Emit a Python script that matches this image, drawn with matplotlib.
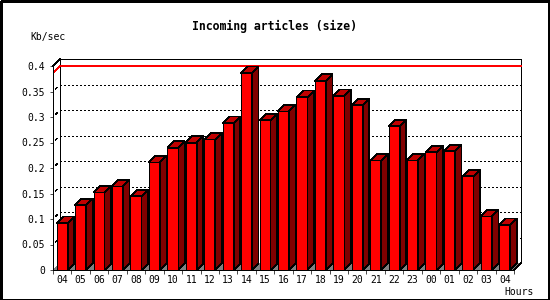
import numpy as np
import matplotlib
matplotlib.use('Agg')
import matplotlib.pyplot as plt
from matplotlib.patches import Polygon, Rectangle

# hourly incoming article volume, Kb/sec
hours = ['04', '05', '06', '07', '08', '09', '10', '11', '12', '13', '14', '15',
         '16', '17', '18', '19', '20', '21', '22', '23', '00', '01', '02', '03', '04']
kbsec = [0.092, 0.127, 0.152, 0.164, 0.1445, 0.211, 0.240, 0.250, 0.256, 0.288,
         0.386, 0.2935, 0.311, 0.339, 0.371, 0.341, 0.323, 0.215, 0.282, 0.215,
         0.231, 0.233, 0.184, 0.105, 0.088]
yticks = [0, 0.05, 0.1, 0.15, 0.2, 0.25, 0.3, 0.35, 0.4]

W, H = 550, 300
LW = 0.5
plt.rcParams['lines.antialiased'] = False
plt.rcParams['patch.antialiased'] = False
fig = plt.figure(figsize=(W / 100, H / 100), dpi=100)

# front plane of the box in pixels
x0, x1, y0, y1 = 53, 514, 270, 66
ax = fig.add_axes([x0 / W, (H - y0) / H, (x1 - x0) / W, (y0 - y1) / H])
n = len(hours)
ymax = yticks[-1]
ax.set_xlim(0, n)
ax.set_ylim(0, ymax)

pxx = (x1 - x0) / n
pxy = (y0 - y1) / ymax
DX, DY = 7 / pxx, 7 / pxy        # wall depth
BX, BY = 6.5 / pxx, 6.5 / pxy    # bar depth

for s in ['top', 'right']:
    ax.spines[s].set_visible(False)
for s in ['left', 'bottom']:
    ax.spines[s].set_linewidth(LW)
    ax.spines[s].set_zorder(6)

# floor
ax.add_patch(Polygon([(0, 0), (n, 0), (n + DX, DY), (DX, DY)], closed=True,
                     facecolor='#808080', edgecolor='none', zorder=0, clip_on=False))

# back wall outline
kw = dict(color='black', lw=LW, clip_on=False, zorder=1)
ax.plot([DX, DX, n + DX, n + DX], [DY, ymax + DY, ymax + DY, DY], **kw)
ax.plot([0, DX], [ymax, ymax + DY], **kw)
ax.plot([n, n + DX], [0, DY], **kw)

# dotted grid on back wall + little stubs
for v in yticks[1:-1]:
    ax.plot([DX, n + DX], [v + DY, v + DY], color='black', lw=LW,
            ls=(0, (2, 4)), clip_on=False, zorder=1)
    ax.plot([DX * 0.4, DX * 0.55], [v + DY * 0.4, v + DY * 0.55], **kw)

# max line
vmax = max(kbsec)
ax.plot([DX * 0.2, DX, n + DX], [vmax + DY * 0.2, vmax + DY, vmax + DY],
        color='#ff0000', lw=LW, clip_on=False, zorder=1)

# bars
xs = np.arange(n) + 0.5
bw = 0.6
ax.bar(xs, kbsec, width=bw, color='#ff0000', edgecolor='black', linewidth=LW, zorder=3)
for x, v in zip(xs, kbsec):
    l, r = x - bw / 2, x + bw / 2
    ax.add_patch(Polygon([(r, 0), (r + BX, BY), (r + BX, v + BY), (r, v)], closed=True,
                         facecolor='#800000', edgecolor='black', lw=LW, zorder=3,
                         clip_on=False))
    ax.add_patch(Polygon([(l, v), (r, v), (r + BX, v + BY), (l + BX, v + BY)], closed=True,
                         facecolor='#c00000', edgecolor='black', lw=LW, zorder=3,
                         clip_on=False))

mono = 'DejaVu Sans Mono'
ax.set_yticks(yticks)
ax.set_yticklabels(['%g' % v for v in yticks], family=mono, fontsize=7)
ax.tick_params(axis='y', length=2.2, width=LW, pad=3.6)
ax.set_xticks(np.arange(n + 1))
ax.set_xticklabels([])
ax.tick_params(axis='x', which='major', length=2.9, width=LW)
ax.set_xticks(xs, minor=True)
ax.set_xticklabels(hours, minor=True, family=mono, fontsize=7)
ax.tick_params(axis='x', which='minor', length=0, pad=3.5)
ax.set_facecolor('none')

fig.text(274 / W, 1 - 26.5 / H, 'Incoming articles (size)', ha='center', va='center',
         family=mono, fontsize=8.3, fontweight='bold')
fig.text(30 / W, 1 - 37 / H, 'Kb/sec', ha='left', va='center', family=mono, fontsize=7)
fig.text(504 / W, 1 - 292 / H, 'Hours', ha='left', va='center', family=mono, fontsize=7)

fig.add_artist(Rectangle((0.5 / W, 0.5 / H), 548 / W, 298.5 / H, transform=fig.transFigure,
                         fill=False, edgecolor='black', lw=1.0))

fig.savefig('out.png', dpi=100)
